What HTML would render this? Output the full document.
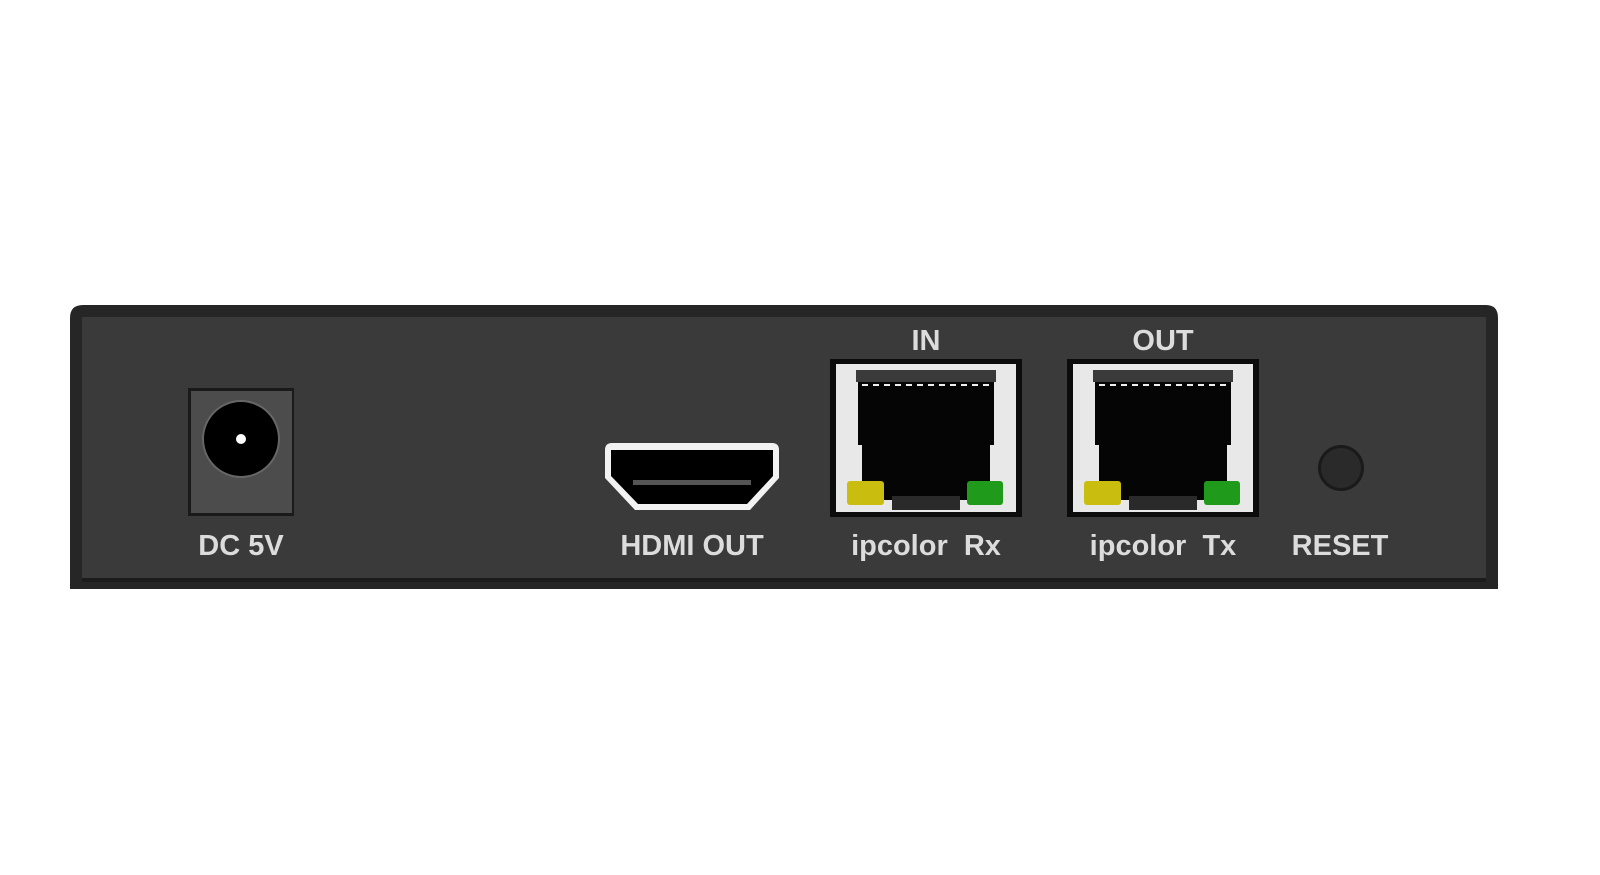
<!DOCTYPE html>
<html><head><style>html,body{margin:0;padding:0;background:#fff;width:1600px;height:875px;overflow:hidden}</style></head>
<body>
<svg width="1600" height="875" viewBox="0 0 1600 875" xmlns="http://www.w3.org/2000/svg" font-family="Liberation Sans, sans-serif">
<rect width="1600" height="875" fill="#fff"/>
<path d="M70 318 Q70 305 83 305 L1486 305 Q1498 305 1498 318 L1498 589 L70 589 Z" fill="#262626"/>
<rect x="82" y="317" width="1404" height="261" fill="#3a3a3a"/>
<rect x="82" y="578" width="1404" height="4" fill="#1c1c1c"/>
<!-- DC jack -->
<rect x="188" y="388" width="106" height="128" fill="#1a1a1a"/>
<rect x="191" y="391" width="101" height="122" fill="#4c4c4c"/>
<circle cx="241" cy="439" r="39" fill="#666"/>
<circle cx="241" cy="439" r="37" fill="#000"/>
<circle cx="241" cy="439" r="5" fill="#fff"/>
<!-- HDMI -->
<path d="M605 450 Q605 443 612 443 L772 443 Q779 443 779 450 L779 478 L750 510 L635 510 L605 478 Z" fill="#f2f2f2"/>
<path d="M611 450 L773 450 L773 476 L747 504 L638 504 L611 476 Z" fill="#000"/>
<rect x="633" y="480" width="118" height="5" fill="#555"/>
<!-- RJ45 -->
<g id="rj">
<rect x="830" y="359" width="192" height="158" fill="#0c0c0c"/>
<rect x="836" y="364" width="180" height="148" fill="#e8e8e8"/>
<rect x="856" y="370" width="140" height="12" fill="#3a3a3a"/>
<path d="M858 382 L994 382 L994 445 L990 445 L990 495 L983 495 L983 500 L960 500 L960 510 L892 510 L892 500 L868 500 L868 495 L862 495 L862 445 L858 445 Z" fill="#050505"/>
<rect x="892" y="496" width="68" height="14" fill="#2a2a2a"/>
<g stroke="#eee" stroke-width="2" stroke-dasharray="6 5"><line x1="862" y1="385" x2="990" y2="385"/></g>
<rect x="847" y="481" width="37" height="24" rx="3" fill="#c9bd10"/>
<rect x="967" y="481" width="36" height="24" rx="3" fill="#1f9a1a"/>
</g>
<use href="#rj" x="237"/>
<circle cx="1341" cy="468" r="23" fill="#1a1a1a"/>
<circle cx="1341" cy="468" r="20" fill="#2a2a2a"/>
<g fill="#dcdcdc" font-weight="bold" font-size="29" text-anchor="middle">
<text x="241" y="555">DC 5V</text>
<text x="692" y="555">HDMI OUT</text>
<text x="926" y="555" xml:space="preserve">ipcolor  Rx</text>
<text x="1163" y="555" xml:space="preserve">ipcolor  Tx</text>
<text x="1340" y="555">RESET</text>
<text x="926" y="350">IN</text>
<text x="1163" y="350">OUT</text>
</g>
</svg>
</body></html>
